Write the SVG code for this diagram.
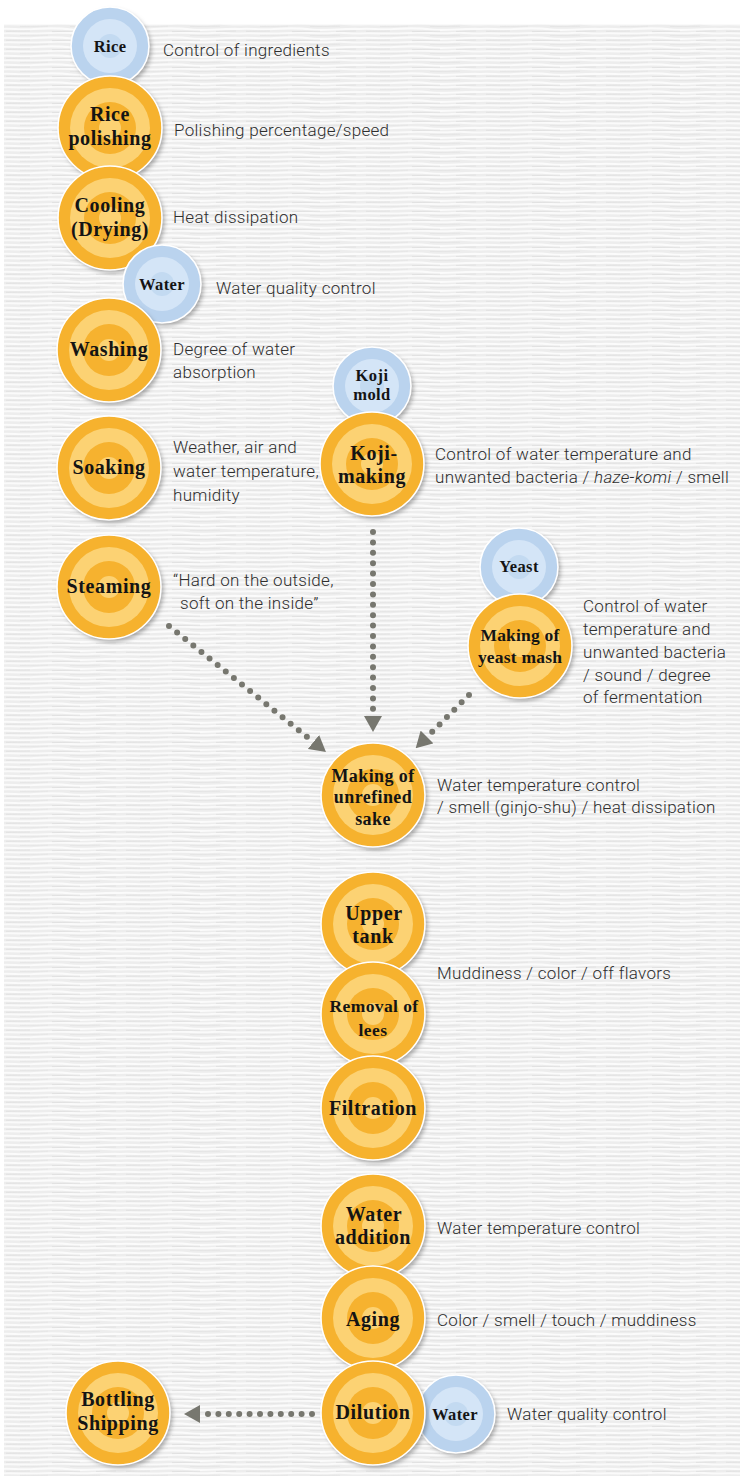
<svg xmlns="http://www.w3.org/2000/svg" width="740" height="1480" viewBox="0 0 740 1480">
<style>
.desc{font-family:Roboto,"Liberation Sans",sans-serif;font-weight:300;font-size:17px;letter-spacing:0.3px;fill:#2e2e2e}
.lbl{font-family:"Liberation Serif","DejaVu Serif",serif;font-weight:bold;font-size:20px;fill:#141414;text-anchor:middle;letter-spacing:0.6px}
.lbs{font-family:"Liberation Serif","DejaVu Serif",serif;font-weight:bold;font-size:16.5px;fill:#141414;text-anchor:middle;letter-spacing:0.4px}
.o1{fill:#F6B22F}.o2{fill:#FCD273}
.b1{fill:#BAD3EE}.b2{fill:#D4E5F7}
.edge{fill:none;stroke:#FFFFFF;stroke-width:1.6}
.dots{fill:none;stroke:#77776f;stroke-width:6;stroke-linecap:round;stroke-dasharray:0 10.4}
</style>
<defs>
<pattern id="tex" width="120" height="9" patternUnits="userSpaceOnUse">
<rect width="120" height="9" fill="#ededed"/>
<path d="M0,2 C10,1 20,3 34,2 S60,1 72,2.5 S100,1.5 120,2" stroke="#fbfbfb" stroke-width="2.2" fill="none"/>
<path d="M0,6.5 C14,5.5 26,7.5 44,6.2 S78,7 92,6 S110,7 120,6.5" stroke="#fafafa" stroke-width="2" fill="none"/>
<path d="M6,4.3 L30,4 M52,4.6 L80,4.2 M96,4.4 L116,4" stroke="#e0e0e0" stroke-width="0.9" fill="none"/>
<path d="M20,8.4 L48,8.2 M70,8.6 L100,8.3" stroke="#e3e3e3" stroke-width="0.8" fill="none"/>
</pattern>
<filter id="sh" x="-20%" y="-20%" width="150%" height="150%">
<feDropShadow dx="2.5" dy="3" stdDeviation="2.2" flood-color="#000" flood-opacity="0.3"/>
</filter>
<g id="oc">
<circle r="52" class="o1" filter="url(#sh)"/>
<circle r="40" class="o2"/>
<circle r="26" class="o1"/>
<circle r="11" class="o2"/>
<circle r="52" class="edge"/>
</g>
<g id="bc">
<circle r="39" class="b1" filter="url(#sh)"/>
<circle r="27" class="b2"/>
<circle r="12" class="b1" style="fill:#C3DAF1"/>
<circle r="39" class="edge"/>
</g>
<marker id="ah" viewBox="0 0 16 18" refX="0" refY="9" markerWidth="16" markerHeight="18" markerUnits="userSpaceOnUse" orient="auto">
<path d="M0,0 L16,9 L0,18 z" fill="#77776f"/>
</marker>
</defs>

<rect width="740" height="1480" fill="#ffffff"/>
<rect x="4" y="24" width="736" height="1452" fill="url(#tex)"/>

<g id="connectors">
<path class="dots" d="M373,532 L373,716" marker-end="url(#ah)"/>
<path class="dots" d="M169,626 L313.5,742" marker-end="url(#ah)"/>
<path class="dots" d="M469,695 L427,737" marker-end="url(#ah)"/>
<path class="dots" d="M312,1414 L200,1414" marker-end="url(#ah)"/>
</g>

<g id="rice"><use href="#bc" x="110" y="46"/><text class="lbs" x="110" y="52">Rice</text></g>
<g id="polishing"><use href="#oc" x="110" y="128"/><text class="lbl" x="110" y="121">Rice</text><text class="lbl" x="110" y="145">polishing</text></g>
<g id="cooling"><use href="#oc" x="110" y="218"/><text class="lbl" x="110" y="212">Cooling</text><text class="lbl" x="110" y="236">(Drying)</text></g>
<g id="water1"><use href="#bc" x="162" y="284"/><text class="lbs" x="162" y="290">Water</text></g>
<g id="washing"><use href="#oc" x="109" y="350"/><text class="lbl" x="109" y="356">Washing</text></g>
<g id="soaking"><use href="#oc" x="109" y="468"/><text class="lbl" x="109" y="474">Soaking</text></g>
<g id="steaming"><use href="#oc" x="109" y="587"/><text class="lbl" x="109" y="593">Steaming</text></g>
<g id="kojimold"><use href="#bc" x="372" y="386"/><text class="lbs" x="372" y="381">Koji</text><text class="lbs" x="372" y="400">mold</text></g>
<g id="kojimaking"><use href="#oc" x="372" y="464"/><text class="lbl" x="374" y="460">Koji-</text><text class="lbl" x="372" y="483">making</text></g>
<g id="yeast"><use href="#bc" x="519" y="567"/><text class="lbs" x="519" y="572">Yeast</text></g>
<g id="yeastmash"><use href="#oc" x="520" y="646"/><text class="lbl" x="520" y="641" style="font-size:17.5px;letter-spacing:0.2px">Making of</text><text class="lbl" x="520" y="663" style="font-size:17.5px;letter-spacing:0.2px">yeast mash</text></g>
<g id="unrefined"><use href="#oc" x="373" y="795"/><text class="lbl" x="373" y="782" style="font-size:18px;letter-spacing:0.4px">Making of</text><text class="lbl" x="373" y="803" style="font-size:18px;letter-spacing:0.4px">unrefined</text><text class="lbl" x="373" y="825" style="font-size:18px;letter-spacing:0.4px">sake</text></g>
<g id="uppertank"><use href="#oc" x="373" y="924"/><text class="lbl" x="374" y="920">Upper</text><text class="lbl" x="373" y="943">tank</text></g>
<g id="lees"><use href="#oc" x="373" y="1014"/><text class="lbl" x="374" y="1012" style="font-size:17.5px;letter-spacing:0.4px">Removal of</text><text class="lbl" x="373" y="1036" style="font-size:17.5px;letter-spacing:0.4px">lees</text></g>
<g id="filtration"><use href="#oc" x="373" y="1108"/><text class="lbl" x="373" y="1115">Filtration</text></g>
<g id="wateraddition"><use href="#oc" x="373" y="1226"/><text class="lbl" x="374" y="1221">Water</text><text class="lbl" x="373" y="1244">addition</text></g>
<g id="aging"><use href="#oc" x="373" y="1318"/><text class="lbl" x="373" y="1326">Aging</text></g>
<g id="water2"><use href="#bc" x="456" y="1414"/><text class="lbs" x="455" y="1420">Water</text></g>
<g id="dilution"><use href="#oc" x="373" y="1413"/><text class="lbl" x="373" y="1419">Dilution</text></g>
<g id="bottling"><use href="#oc" x="118" y="1413"/><text class="lbl" x="118" y="1406">Bottling</text><text class="lbl" x="118" y="1430">Shipping</text></g>

<g id="descriptions">
<text class="desc" x="163" y="56">Control of ingredients</text>
<text class="desc" x="174" y="136">Polishing percentage/speed</text>
<text class="desc" x="173" y="223">Heat dissipation</text>
<text class="desc" x="216" y="294">Water quality control</text>
<text class="desc" x="173" y="355">Degree of water</text>
<text class="desc" x="173" y="378">absorption</text>
<text class="desc" x="173" y="453">Weather, air and</text>
<text class="desc" x="173" y="477">water temperature,</text>
<text class="desc" x="173" y="501">humidity</text>
<text class="desc" x="435" y="460">Control of water temperature and</text>
<text class="desc" x="435" y="483">unwanted bacteria / <tspan font-style="italic">haze-komi</tspan> / smell</text>
<text class="desc" x="173" y="586">“Hard on the outside,</text>
<text class="desc" x="180" y="609">soft on the inside”</text>
<text class="desc" x="583" y="612">Control of water</text>
<text class="desc" x="583" y="635">temperature and</text>
<text class="desc" x="583" y="658">unwanted bacteria</text>
<text class="desc" x="583" y="681">/ sound / degree</text>
<text class="desc" x="583" y="703">of fermentation</text>
<text class="desc" x="437" y="791">Water temperature control</text>
<text class="desc" x="437" y="813">/ smell (ginjo-shu) / heat dissipation</text>
<text class="desc" x="437" y="979">Muddiness / color / off flavors</text>
<text class="desc" x="437" y="1234">Water temperature control</text>
<text class="desc" x="437" y="1326">Color / smell / touch / muddiness</text>
<text class="desc" x="507" y="1420">Water quality control</text>
</g>
</svg>
